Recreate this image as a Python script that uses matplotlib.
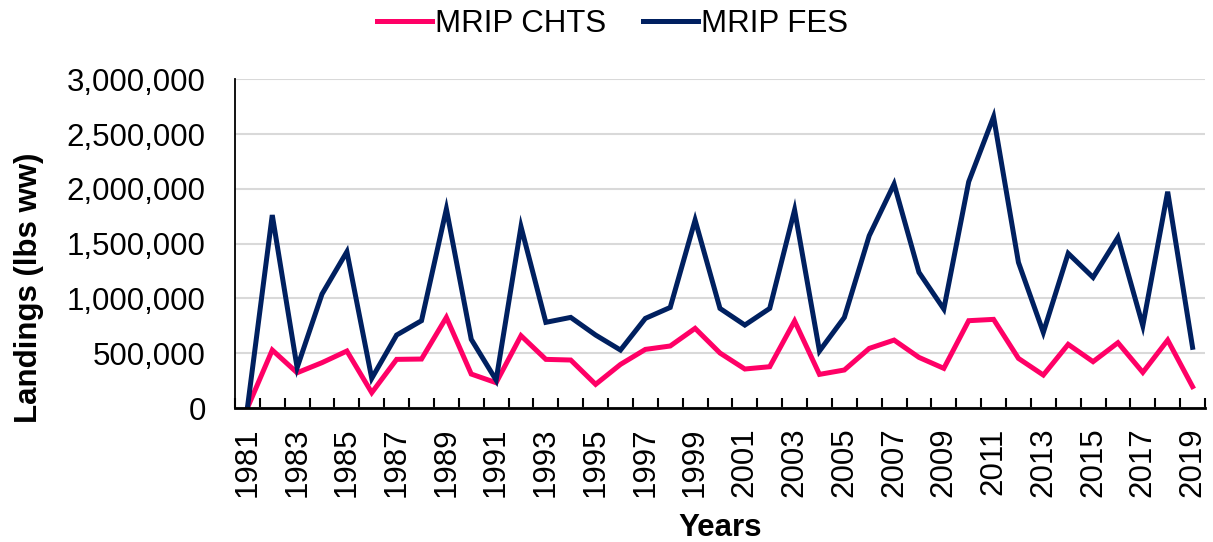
import numpy as np
import matplotlib
matplotlib.use("Agg")
import matplotlib.pyplot as plt
from matplotlib.ticker import FuncFormatter, MultipleLocator

# data (lbs ww)
years = list(range(1981, 2020))
chts = [0, 529000, 322000, 414000, 520000, 140000, 444000, 447000, 827000, 310000,
        231000, 660000, 444000, 438000, 216000, 398000, 535000, 566000, 727000, 502000,
        356000, 377000, 794000, 307000, 347000, 544000, 620000, 462000, 362000, 797000,
        809000, 453000, 301000, 581000, 423000, 596000, 325000, 620000, 195000]
fes = [0, 1761000, 368000, 1040000, 1426000, 271000, 666000, 797000, 1816000, 627000,
       255000, 1655000, 782000, 827000, 666000, 529000, 818000, 918000, 1715000, 909000,
       757000, 909000, 1807000, 520000, 827000, 1572000, 2044000, 1238000, 903000, 2065000,
       2658000, 1329000, 690000, 1411000, 1192000, 1557000, 751000, 1974000, 554000]
series_names = ["MRIP CHTS", "MRIP FES"]
colors = ["#FF0066", "#002060"]

plt.rcParams["font.family"] = ["Liberation Sans", "DejaVu Sans"]
fs = 22.5

fig = plt.figure(figsize=(12.13, 5.42), dpi=100)
ax = fig.add_axes([0.1937, 0.2472, 0.7997, 0.6065])

ax.plot(years, chts, color=colors[0], lw=3.6, label=series_names[0], solid_joinstyle="miter")
ax.plot(years, fes, color=colors[1], lw=3.6, label=series_names[1], solid_joinstyle="miter")

ax.set_xlim(1980.5, 2019.5)
ax.set_ylim(0, 3000000)
ax.yaxis.set_major_locator(MultipleLocator(500000))
ax.yaxis.set_major_formatter(FuncFormatter(lambda v, p: f"{int(v):,}"))
ax.grid(axis="y", color="#D9D9D9", lw=1.5)
ax.set_axisbelow(True)

ax.set_xticks(years[::2], labels=[str(y) for y in years[::2]], rotation=90, fontsize=fs)
ax.set_xticks(np.arange(1980.5, 2020, 1), minor=True)
ax.tick_params(axis="x", which="major", length=0, pad=14)
ax.tick_params(axis="x", which="minor", direction="in", length=7, width=1.5, color="black")
ax.tick_params(axis="y", length=0, pad=21, labelsize=fs)

for s in ["top", "right"]:
    ax.spines[s].set_visible(False)
ax.spines["bottom"].set_linewidth(2)
ax.spines["left"].set_linewidth(1.3)

ax.set_ylabel("Landings (lbs ww)", fontsize=fs, fontweight="bold")
ax.yaxis.set_label_coords(-0.197, 0.365)
ax.set_xlabel("Years", fontsize=fs, fontweight="bold")
ax.xaxis.set_label_coords(0.5, -0.318)

fig.legend(loc="center", bbox_to_anchor=(0.505, 0.955), ncol=2, frameon=False,
           fontsize=fs, handlelength=1.75, handletextpad=0.1, columnspacing=1.2)

fig.savefig("out.png", dpi=100)
